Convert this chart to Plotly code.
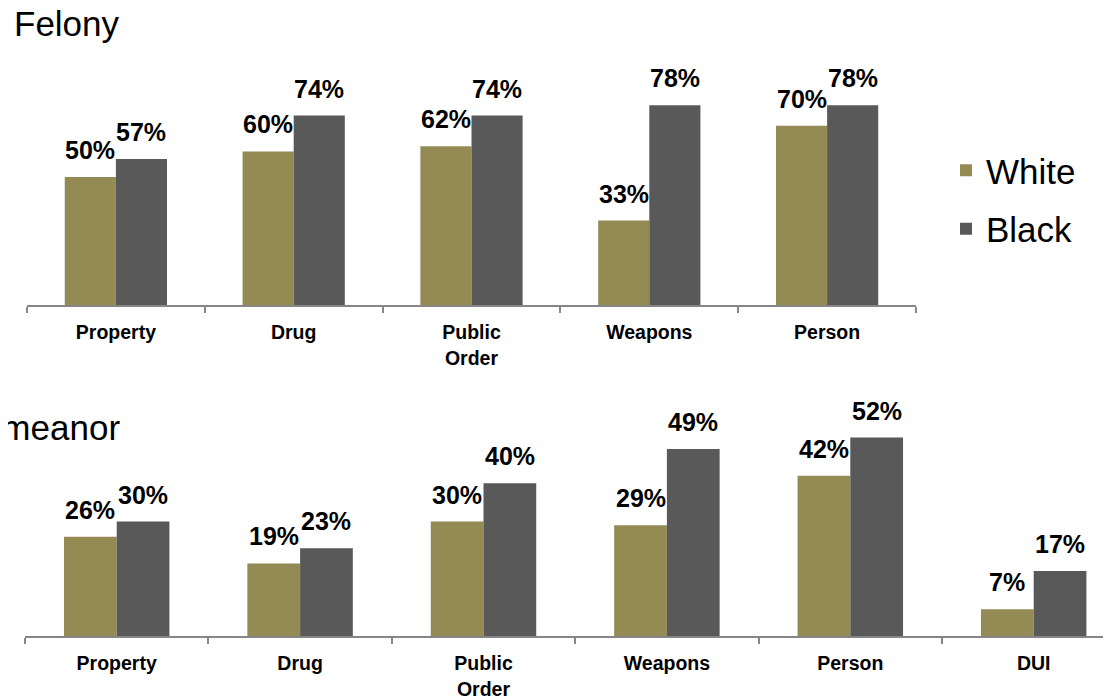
import plotly.graph_objects as go

# Data
felony_cats = ["Property", "Drug", "Public<br>Order", "Weapons", "Person"]
felony_white = [50, 60, 62, 33, 70]
felony_black = [57, 74, 74, 78, 78]

misd_cats = ["Property", "Drug", "Public<br>Order", "Weapons", "Person", "DUI"]
misd_white = [26, 19, 30, 29, 42, 7]
misd_black = [30, 23, 40, 49, 52, 17]

series_names = ["White", "Black"]
series_colors = ["#948A54", "#595959"]

W, H = 1111, 696
OFF = 8  # page body margin
BARGAP = 0.425
FONT = "Liberation Sans, Arial, sans-serif"

fig = go.Figure()

panels = [
    (felony_cats, [felony_white, felony_black], "x", "y", True),
    (misd_cats, [misd_white, misd_black], "x2", "y2", False),
]

for cats, series, xa, ya, show in panels:
    for name, color, vals in zip(series_names, series_colors, series):
        fig.add_trace(
            go.Bar(
                x=cats,
                y=vals,
                name=name,
                marker=dict(color=color, line=dict(width=0)),
                xaxis=xa,
                yaxis=ya,
                legendgroup=name,
                showlegend=show,
                hoverinfo="skip",
            )
        )

# value labels above each bar
half = (1 - BARGAP) / 4
for cats, series, xa, ya, _ in panels:
    for k, vals in enumerate(series):
        off = -half if k == 0 else half
        for i, v in enumerate(vals):
            fig.add_annotation(
                x=i + off,
                y=v,
                xref=xa,
                yref=ya,
                text=f"<b>{v}%</b>",
                showarrow=False,
                yanchor="bottom",
                yshift=11,
                font=dict(family=FONT, size=25, color="#000000"),
            )


# screen pixel -> paper fraction
def px_x(p):
    return (p - OFF) / W


def px_y(p):
    return 1 - (p - OFF) / H


axis_common = dict(
    type="category",
    automargin=False,
    showline=True,
    linecolor="#868686",
    linewidth=2,
    ticks="outside",
    tickson="boundaries",
    ticklen=6,
    tickwidth=1.5,
    tickcolor="#868686",
    ticklabelstandoff=9,
    showgrid=False,
    zeroline=False,
    tickfont=dict(family=FONT, size=19.5, color="#000000", weight="bold"),
    fixedrange=True,
)

step_bottom = 183.4
right_cut = 5.5 - (25 + 6 * step_bottom - (W + OFF)) / step_bottom

fig.update_layout(
    width=W,
    height=H,
    paper_bgcolor="white",
    plot_bgcolor="white",
    margin=dict(l=0, r=0, t=0, b=0, autoexpand=False),
    barmode="group",
    bargap=BARGAP,
    bargroupgap=0,
    font=dict(family=FONT, color="#000000"),
    xaxis=dict(axis_common, domain=[px_x(27), px_x(916)], anchor="y", range=[-0.5, 4.5]),
    yaxis=dict(domain=[px_y(305), px_y(49)], range=[0, 100], visible=False, anchor="x"),
    xaxis2=dict(axis_common, domain=[px_x(25), 1], anchor="y2", range=[-0.5, right_cut]),
    yaxis2=dict(domain=[px_y(636), px_y(407)], range=[0, 60], visible=False, anchor="x2"),
    legend=dict(
        x=px_x(946),
        y=px_y(141),
        xanchor="left",
        yanchor="top",
        font=dict(family=FONT, size=35, color="#000000"),
        tracegroupgap=10,
        bgcolor="rgba(0,0,0,0)",
        itemclick=False,
    ),
    showlegend=True,
)

fig.add_annotation(
    x=px_x(12), y=px_y(23), xref="paper", yref="paper",
    text="Felony", showarrow=False, xanchor="left", yanchor="middle",
    font=dict(family=FONT, size=35, color="#000000"),
)
fig.add_annotation(
    x=px_x(122), y=px_y(427), xref="paper", yref="paper",
    text="Misdemeanor", showarrow=False, xanchor="right", yanchor="middle",
    font=dict(family=FONT, size=35, color="#000000"),
)

fig.write_html("out.html")
